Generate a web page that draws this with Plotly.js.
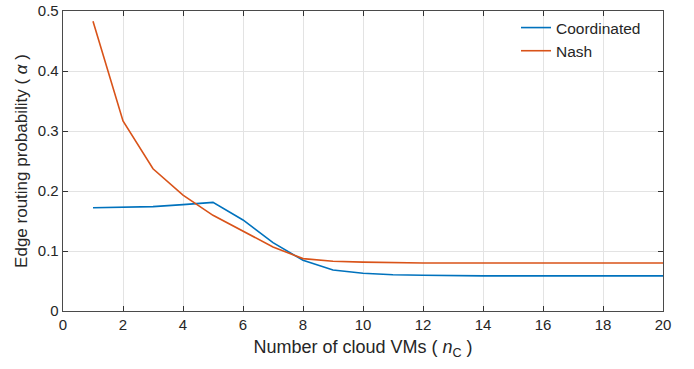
<!DOCTYPE html>
<html><head><meta charset="utf-8">
<script src="https://cdn.plot.ly/plotly-3.0.1.min.js"></script>
<style>html,body{margin:0;padding:0;background:#fff}#chart{width:694px;height:369px}</style>
</head><body><div id="chart"></div>
<script>
const vms = [1,2,3,4,5,6,7,8,9,10,11,12,13,14,15,16,17,18,19,20];
const coordinated = [0.172,0.173,0.174,0.1773,0.181,0.1517,0.114,0.0845,0.0683,0.0628,0.0605,0.0595,0.0585,0.0585,0.0585,0.0585,0.0585,0.0585,0.0585,0.0585];
const nash = [0.483,0.3167,0.237,0.193,0.1595,0.133,0.1067,0.0873,0.083,0.0815,0.0805,0.080,0.080,0.080,0.080,0.080,0.080,0.080,0.080,0.080];
const seriesNames = ['Coordinated','Nash'];
const xTicks = [0,2,4,6,8,10,12,14,16,18,20];
const yTicks = [0,0.1,0.2,0.3,0.4,0.5];
const yTickText = ['0','0.1','0.2','0.3','0.4','0.5'];

const fam = '"Liberation Sans", Arial, Helvetica, sans-serif';
const col = '#262626';
const traces = [
  {x:vms, y:coordinated, name:seriesNames[0], type:'scatter', mode:'lines', line:{color:'#0072BD', width:1.6}},
  {x:vms, y:nash, name:seriesNames[1], type:'scatter', mode:'lines', line:{color:'#D95319', width:1.6}}
];
const axisCommon = {
  showline:true, linecolor:'#4a4a4a', linewidth:1.3, mirror:'ticks',
  ticks:'inside', ticklen:5, tickwidth:1, tickcolor:'#333',
  showgrid:true, gridcolor:'#e3e3e3', gridwidth:1, zeroline:false,
  tickfont:{family:fam, size:15, color:col}
};
const layout = {
  width:694, height:369,
  margin:{l:63, r:31, t:11, b:58},
  paper_bgcolor:'#fff', plot_bgcolor:'#fff',
  font:{family:fam, color:col},
  showlegend:true,
  legend:{x:0.755, y:1.0, xanchor:'left', yanchor:'top', bgcolor:'rgba(0,0,0,0)', borderwidth:0,
          font:{family:fam, size:15.5, color:col}, tracegroupgap:0, itemwidth:30},
  xaxis:Object.assign({}, axisCommon, {range:[0,20], tickvals:xTicks, ticktext:xTicks.map(String),
     title:{text:'Number of cloud VMs ( <i>n</i><sub>C</sub> )', font:{family:fam, size:18, color:col}, standoff:8}}),
  yaxis:Object.assign({}, axisCommon, {range:[0,0.5], tickvals:yTicks, ticktext:yTickText,
     title:{text:'Edge routing probability ( <i>α</i> )', font:{family:fam, size:17, color:col}, standoff:6}})
};
Plotly.newPlot('chart', traces, layout, {displayModeBar:false, staticPlot:true});
</script></body></html>
